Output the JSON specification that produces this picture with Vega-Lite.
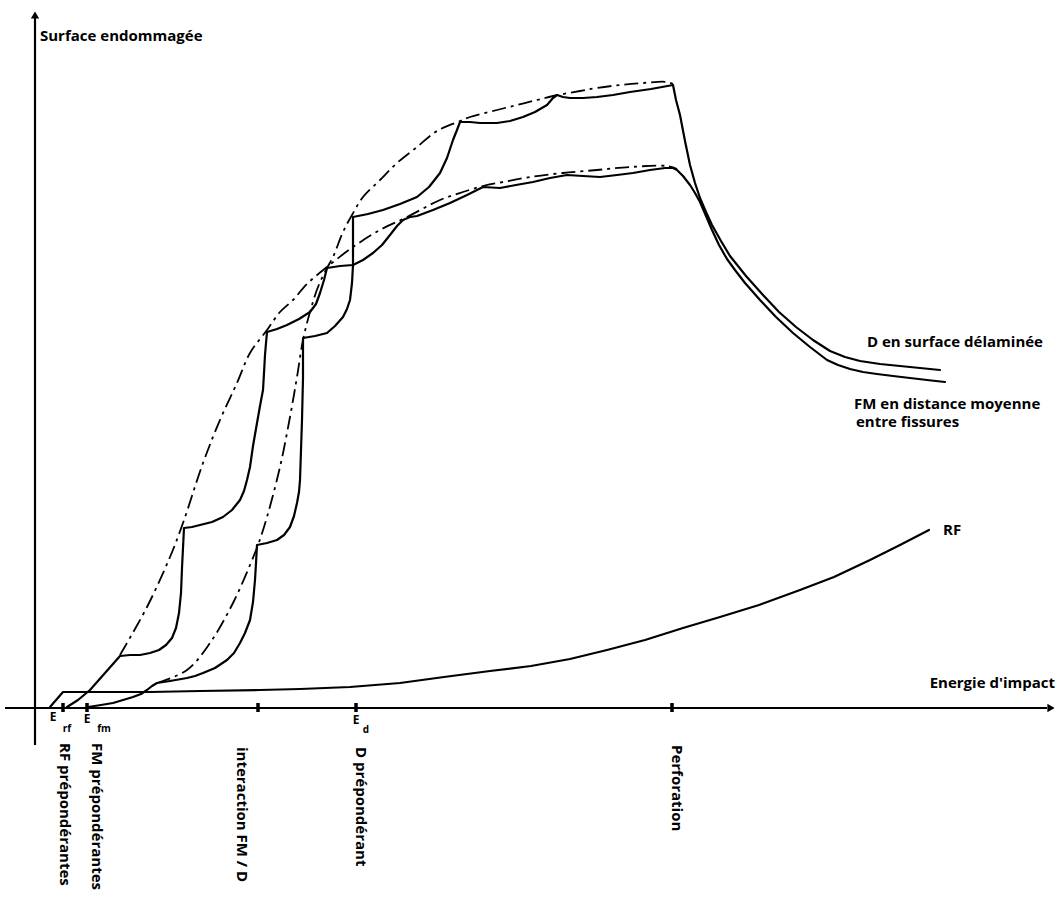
{
  "$schema": "https://vega.github.io/schema/vega-lite/v6.json",
  "width": 1063,
  "height": 904,
  "padding": 0,
  "autosize": {"type": "fit", "contains": "padding"},
  "background": "white",
  "config": {"view": {"stroke": null}},
  "datasets": {
    "curves": [
      {"curve":"FM","kind":"mesure","i":1,"e":32,"s":1},
      {"curve":"FM","kind":"mesure","i":2,"e":43,"s":8},
      {"curve":"FM","kind":"mesure","i":3,"e":55,"s":18},
      {"curve":"FM","kind":"mesure","i":4,"e":70,"s":35},
      {"curve":"FM","kind":"mesure","i":5,"e":85,"s":52},
      {"curve":"FM","kind":"mesure","i":6,"e":95,"s":53},
      {"curve":"FM","kind":"mesure","i":7,"e":105,"s":53},
      {"curve":"FM","kind":"mesure","i":8,"e":115,"s":55},
      {"curve":"FM","kind":"mesure","i":9,"e":124,"s":58},
      {"curve":"FM","kind":"mesure","i":10,"e":131,"s":63},
      {"curve":"FM","kind":"mesure","i":11,"e":137,"s":70},
      {"curve":"FM","kind":"mesure","i":12,"e":141,"s":80},
      {"curve":"FM","kind":"mesure","i":13,"e":144,"s":95},
      {"curve":"FM","kind":"mesure","i":14,"e":146,"s":115},
      {"curve":"FM","kind":"mesure","i":15,"e":147,"s":140},
      {"curve":"FM","kind":"mesure","i":16,"e":148,"s":160},
      {"curve":"FM","kind":"mesure","i":17,"e":149,"s":180},
      {"curve":"FM","kind":"mesure","i":18,"e":157,"s":181},
      {"curve":"FM","kind":"mesure","i":19,"e":165,"s":183},
      {"curve":"FM","kind":"mesure","i":20,"e":177,"s":186},
      {"curve":"FM","kind":"mesure","i":21,"e":188,"s":191},
      {"curve":"FM","kind":"mesure","i":22,"e":197,"s":198},
      {"curve":"FM","kind":"mesure","i":23,"e":205,"s":208},
      {"curve":"FM","kind":"mesure","i":24,"e":209,"s":217},
      {"curve":"FM","kind":"mesure","i":25,"e":212,"s":228},
      {"curve":"FM","kind":"mesure","i":26,"e":215,"s":241},
      {"curve":"FM","kind":"mesure","i":27,"e":218,"s":262},
      {"curve":"FM","kind":"mesure","i":28,"e":222,"s":285},
      {"curve":"FM","kind":"mesure","i":29,"e":225,"s":302},
      {"curve":"FM","kind":"mesure","i":30,"e":228,"s":318},
      {"curve":"FM","kind":"mesure","i":31,"e":229,"s":335},
      {"curve":"FM","kind":"mesure","i":32,"e":230,"s":353},
      {"curve":"FM","kind":"mesure","i":33,"e":231,"s":365},
      {"curve":"FM","kind":"mesure","i":34,"e":232,"s":376},
      {"curve":"FM","kind":"mesure","i":35,"e":242,"s":379},
      {"curve":"FM","kind":"mesure","i":36,"e":252,"s":383},
      {"curve":"FM","kind":"mesure","i":37,"e":264,"s":389},
      {"curve":"FM","kind":"mesure","i":38,"e":275,"s":396},
      {"curve":"FM","kind":"mesure","i":39,"e":281,"s":404},
      {"curve":"FM","kind":"mesure","i":40,"e":285,"s":415},
      {"curve":"FM","kind":"mesure","i":41,"e":289,"s":428},
      {"curve":"FM","kind":"mesure","i":42,"e":292,"s":440},
      {"curve":"FM","kind":"mesure","i":43,"e":305,"s":442},
      {"curve":"FM","kind":"mesure","i":44,"e":318,"s":443},
      {"curve":"FM","kind":"mesure","i":45,"e":328,"s":448},
      {"curve":"FM","kind":"mesure","i":46,"e":338,"s":455},
      {"curve":"FM","kind":"mesure","i":47,"e":347,"s":463},
      {"curve":"FM","kind":"mesure","i":48,"e":355,"s":473},
      {"curve":"FM","kind":"mesure","i":49,"e":362,"s":482},
      {"curve":"FM","kind":"mesure","i":50,"e":368,"s":488},
      {"curve":"FM","kind":"mesure","i":51,"e":375,"s":491},
      {"curve":"FM","kind":"mesure","i":52,"e":382,"s":492},
      {"curve":"FM","kind":"mesure","i":53,"e":398,"s":498},
      {"curve":"FM","kind":"mesure","i":54,"e":415,"s":505},
      {"curve":"FM","kind":"mesure","i":55,"e":432,"s":513},
      {"curve":"FM","kind":"mesure","i":56,"e":448,"s":521},
      {"curve":"FM","kind":"mesure","i":57,"e":465,"s":520},
      {"curve":"FM","kind":"mesure","i":58,"e":481,"s":523},
      {"curve":"FM","kind":"mesure","i":59,"e":498,"s":526},
      {"curve":"FM","kind":"mesure","i":60,"e":515,"s":530},
      {"curve":"FM","kind":"mesure","i":61,"e":532,"s":533},
      {"curve":"FM","kind":"mesure","i":62,"e":548,"s":532},
      {"curve":"FM","kind":"mesure","i":63,"e":565,"s":531},
      {"curve":"FM","kind":"mesure","i":64,"e":582,"s":533},
      {"curve":"FM","kind":"mesure","i":65,"e":598,"s":535},
      {"curve":"FM","kind":"mesure","i":66,"e":615,"s":538},
      {"curve":"FM","kind":"mesure","i":67,"e":630,"s":540},
      {"curve":"FM","kind":"mesure","i":68,"e":638,"s":540},
      {"curve":"FM","kind":"mesure","i":69,"e":642,"s":538},
      {"curve":"FM","kind":"mesure","i":70,"e":648,"s":532},
      {"curve":"FM","kind":"mesure","i":71,"e":655,"s":523},
      {"curve":"FM","kind":"mesure","i":72,"e":660,"s":515},
      {"curve":"FM","kind":"mesure","i":73,"e":665,"s":506},
      {"curve":"FM","kind":"mesure","i":74,"e":671,"s":492},
      {"curve":"FM","kind":"mesure","i":75,"e":677,"s":478},
      {"curve":"FM","kind":"mesure","i":76,"e":684,"s":463},
      {"curve":"FM","kind":"mesure","i":77,"e":692,"s":449},
      {"curve":"FM","kind":"mesure","i":78,"e":700,"s":438},
      {"curve":"FM","kind":"mesure","i":79,"e":710,"s":425},
      {"curve":"FM","kind":"mesure","i":80,"e":725,"s":408},
      {"curve":"FM","kind":"mesure","i":81,"e":741,"s":391},
      {"curve":"FM","kind":"mesure","i":82,"e":758,"s":375},
      {"curve":"FM","kind":"mesure","i":83,"e":775,"s":361},
      {"curve":"FM","kind":"mesure","i":84,"e":792,"s":348},
      {"curve":"FM","kind":"mesure","i":85,"e":803,"s":343},
      {"curve":"FM","kind":"mesure","i":86,"e":815,"s":339},
      {"curve":"FM","kind":"mesure","i":87,"e":828,"s":336},
      {"curve":"FM","kind":"mesure","i":88,"e":842,"s":334},
      {"curve":"FM","kind":"mesure","i":89,"e":858,"s":332},
      {"curve":"FM","kind":"mesure","i":90,"e":875,"s":330},
      {"curve":"FM","kind":"mesure","i":91,"e":892,"s":328},
      {"curve":"FM","kind":"mesure","i":92,"e":910,"s":326},

      {"curve":"D","kind":"mesure","i":1,"e":53,"s":1},
      {"curve":"D","kind":"mesure","i":2,"e":66,"s":3},
      {"curve":"D","kind":"mesure","i":3,"e":78,"s":5},
      {"curve":"D","kind":"mesure","i":4,"e":88,"s":8},
      {"curve":"D","kind":"mesure","i":5,"e":98,"s":11},
      {"curve":"D","kind":"mesure","i":6,"e":106,"s":14},
      {"curve":"D","kind":"mesure","i":7,"e":112,"s":18},
      {"curve":"D","kind":"mesure","i":8,"e":117,"s":22},
      {"curve":"D","kind":"mesure","i":9,"e":122,"s":25},
      {"curve":"D","kind":"mesure","i":10,"e":135,"s":27},
      {"curve":"D","kind":"mesure","i":11,"e":152,"s":30},
      {"curve":"D","kind":"mesure","i":12,"e":160,"s":32},
      {"curve":"D","kind":"mesure","i":13,"e":168,"s":35},
      {"curve":"D","kind":"mesure","i":14,"e":180,"s":40},
      {"curve":"D","kind":"mesure","i":15,"e":192,"s":48},
      {"curve":"D","kind":"mesure","i":16,"e":199,"s":55},
      {"curve":"D","kind":"mesure","i":17,"e":205,"s":65},
      {"curve":"D","kind":"mesure","i":18,"e":210,"s":75},
      {"curve":"D","kind":"mesure","i":19,"e":215,"s":88},
      {"curve":"D","kind":"mesure","i":20,"e":218,"s":106},
      {"curve":"D","kind":"mesure","i":21,"e":220,"s":128},
      {"curve":"D","kind":"mesure","i":22,"e":221,"s":145},
      {"curve":"D","kind":"mesure","i":23,"e":222,"s":163},
      {"curve":"D","kind":"mesure","i":24,"e":232,"s":165},
      {"curve":"D","kind":"mesure","i":25,"e":242,"s":168},
      {"curve":"D","kind":"mesure","i":26,"e":249,"s":173},
      {"curve":"D","kind":"mesure","i":27,"e":255,"s":181},
      {"curve":"D","kind":"mesure","i":28,"e":259,"s":192},
      {"curve":"D","kind":"mesure","i":29,"e":262,"s":205},
      {"curve":"D","kind":"mesure","i":30,"e":264,"s":216},
      {"curve":"D","kind":"mesure","i":31,"e":265,"s":228},
      {"curve":"D","kind":"mesure","i":32,"e":266,"s":258},
      {"curve":"D","kind":"mesure","i":33,"e":267,"s":288},
      {"curve":"D","kind":"mesure","i":34,"e":268,"s":330},
      {"curve":"D","kind":"mesure","i":35,"e":268,"s":370},
      {"curve":"D","kind":"mesure","i":36,"e":280,"s":372},
      {"curve":"D","kind":"mesure","i":37,"e":292,"s":375},
      {"curve":"D","kind":"mesure","i":38,"e":300,"s":382},
      {"curve":"D","kind":"mesure","i":39,"e":308,"s":391},
      {"curve":"D","kind":"mesure","i":40,"e":312,"s":399},
      {"curve":"D","kind":"mesure","i":41,"e":315,"s":408},
      {"curve":"D","kind":"mesure","i":42,"e":317,"s":425},
      {"curve":"D","kind":"mesure","i":43,"e":318,"s":443},
      {"curve":"D","kind":"mesure","i":44,"e":318,"s":491},
      {"curve":"D","kind":"mesure","i":45,"e":333,"s":494},
      {"curve":"D","kind":"mesure","i":46,"e":348,"s":498},
      {"curve":"D","kind":"mesure","i":47,"e":365,"s":504},
      {"curve":"D","kind":"mesure","i":48,"e":382,"s":511},
      {"curve":"D","kind":"mesure","i":49,"e":394,"s":521},
      {"curve":"D","kind":"mesure","i":50,"e":405,"s":535},
      {"curve":"D","kind":"mesure","i":51,"e":412,"s":550},
      {"curve":"D","kind":"mesure","i":52,"e":418,"s":568},
      {"curve":"D","kind":"mesure","i":53,"e":422,"s":578},
      {"curve":"D","kind":"mesure","i":54,"e":425,"s":586},
      {"curve":"D","kind":"mesure","i":55,"e":435,"s":586},
      {"curve":"D","kind":"mesure","i":56,"e":445,"s":585},
      {"curve":"D","kind":"mesure","i":57,"e":462,"s":585},
      {"curve":"D","kind":"mesure","i":58,"e":475,"s":587},
      {"curve":"D","kind":"mesure","i":59,"e":488,"s":591},
      {"curve":"D","kind":"mesure","i":60,"e":500,"s":596},
      {"curve":"D","kind":"mesure","i":61,"e":512,"s":603},
      {"curve":"D","kind":"mesure","i":62,"e":518,"s":610},
      {"curve":"D","kind":"mesure","i":63,"e":522,"s":613},
      {"curve":"D","kind":"mesure","i":64,"e":528,"s":611},
      {"curve":"D","kind":"mesure","i":65,"e":535,"s":610},
      {"curve":"D","kind":"mesure","i":66,"e":548,"s":610},
      {"curve":"D","kind":"mesure","i":67,"e":562,"s":611},
      {"curve":"D","kind":"mesure","i":68,"e":578,"s":613},
      {"curve":"D","kind":"mesure","i":69,"e":595,"s":616},
      {"curve":"D","kind":"mesure","i":70,"e":616,"s":619},
      {"curve":"D","kind":"mesure","i":71,"e":638,"s":623},
      {"curve":"D","kind":"mesure","i":72,"e":641,"s":608},
      {"curve":"D","kind":"mesure","i":73,"e":645,"s":593},
      {"curve":"D","kind":"mesure","i":74,"e":650,"s":567},
      {"curve":"D","kind":"mesure","i":75,"e":655,"s":543},
      {"curve":"D","kind":"mesure","i":76,"e":660,"s":525},
      {"curve":"D","kind":"mesure","i":77,"e":665,"s":510},
      {"curve":"D","kind":"mesure","i":78,"e":671,"s":496},
      {"curve":"D","kind":"mesure","i":79,"e":677,"s":483},
      {"curve":"D","kind":"mesure","i":80,"e":686,"s":467},
      {"curve":"D","kind":"mesure","i":81,"e":695,"s":452},
      {"curve":"D","kind":"mesure","i":82,"e":711,"s":432},
      {"curve":"D","kind":"mesure","i":83,"e":728,"s":413},
      {"curve":"D","kind":"mesure","i":84,"e":744,"s":396},
      {"curve":"D","kind":"mesure","i":85,"e":761,"s":381},
      {"curve":"D","kind":"mesure","i":86,"e":778,"s":368},
      {"curve":"D","kind":"mesure","i":87,"e":795,"s":357},
      {"curve":"D","kind":"mesure","i":88,"e":810,"s":351},
      {"curve":"D","kind":"mesure","i":89,"e":825,"s":347},
      {"curve":"D","kind":"mesure","i":90,"e":845,"s":344},
      {"curve":"D","kind":"mesure","i":91,"e":865,"s":342},
      {"curve":"D","kind":"mesure","i":92,"e":885,"s":340},
      {"curve":"D","kind":"mesure","i":93,"e":905,"s":338},

      {"curve":"RF","kind":"mesure","i":1,"e":15,"s":1},
      {"curve":"RF","kind":"mesure","i":2,"e":28,"s":16},
      {"curve":"RF","kind":"mesure","i":3,"e":65,"s":16},
      {"curve":"RF","kind":"mesure","i":4,"e":115,"s":16},
      {"curve":"RF","kind":"mesure","i":5,"e":165,"s":17},
      {"curve":"RF","kind":"mesure","i":6,"e":225,"s":18},
      {"curve":"RF","kind":"mesure","i":7,"e":265,"s":19},
      {"curve":"RF","kind":"mesure","i":8,"e":315,"s":21},
      {"curve":"RF","kind":"mesure","i":9,"e":365,"s":25},
      {"curve":"RF","kind":"mesure","i":10,"e":409,"s":31},
      {"curve":"RF","kind":"mesure","i":11,"e":455,"s":37},
      {"curve":"RF","kind":"mesure","i":12,"e":496,"s":42},
      {"curve":"RF","kind":"mesure","i":13,"e":535,"s":49},
      {"curve":"RF","kind":"mesure","i":14,"e":572,"s":58},
      {"curve":"RF","kind":"mesure","i":15,"e":610,"s":68},
      {"curve":"RF","kind":"mesure","i":16,"e":648,"s":80},
      {"curve":"RF","kind":"mesure","i":17,"e":685,"s":91},
      {"curve":"RF","kind":"mesure","i":18,"e":724,"s":103},
      {"curve":"RF","kind":"mesure","i":19,"e":765,"s":118},
      {"curve":"RF","kind":"mesure","i":20,"e":799,"s":131},
      {"curve":"RF","kind":"mesure","i":21,"e":835,"s":148},
      {"curve":"RF","kind":"mesure","i":22,"e":865,"s":163},
      {"curve":"RF","kind":"mesure","i":23,"e":894,"s":178},

      {"curve":"FM_env","kind":"enveloppe","i":1,"e":85,"s":53},
      {"curve":"FM_env","kind":"enveloppe","i":2,"e":112,"s":101},
      {"curve":"FM_env","kind":"enveloppe","i":3,"e":135,"s":151},
      {"curve":"FM_env","kind":"enveloppe","i":4,"e":148,"s":185},
      {"curve":"FM_env","kind":"enveloppe","i":5,"e":168,"s":245},
      {"curve":"FM_env","kind":"enveloppe","i":6,"e":185,"s":288},
      {"curve":"FM_env","kind":"enveloppe","i":7,"e":202,"s":325},
      {"curve":"FM_env","kind":"enveloppe","i":8,"e":215,"s":355},
      {"curve":"FM_env","kind":"enveloppe","i":9,"e":232,"s":378},
      {"curve":"FM_env","kind":"enveloppe","i":10,"e":245,"s":396},
      {"curve":"FM_env","kind":"enveloppe","i":11,"e":258,"s":408},
      {"curve":"FM_env","kind":"enveloppe","i":12,"e":272,"s":424},
      {"curve":"FM_env","kind":"enveloppe","i":13,"e":292,"s":441},
      {"curve":"FM_env","kind":"enveloppe","i":14,"e":318,"s":461},
      {"curve":"FM_env","kind":"enveloppe","i":15,"e":345,"s":478},
      {"curve":"FM_env","kind":"enveloppe","i":16,"e":372,"s":491},
      {"curve":"FM_env","kind":"enveloppe","i":17,"e":405,"s":508},
      {"curve":"FM_env","kind":"enveloppe","i":18,"e":428,"s":516},
      {"curve":"FM_env","kind":"enveloppe","i":19,"e":448,"s":522},
      {"curve":"FM_env","kind":"enveloppe","i":20,"e":468,"s":526},
      {"curve":"FM_env","kind":"enveloppe","i":21,"e":495,"s":531},
      {"curve":"FM_env","kind":"enveloppe","i":22,"e":528,"s":535},
      {"curve":"FM_env","kind":"enveloppe","i":23,"e":562,"s":538},
      {"curve":"FM_env","kind":"enveloppe","i":24,"e":595,"s":541},
      {"curve":"FM_env","kind":"enveloppe","i":25,"e":632,"s":542},
      {"curve":"FM_env","kind":"enveloppe","i":26,"e":642,"s":539},

      {"curve":"D_env","kind":"enveloppe","i":1,"e":122,"s":25},
      {"curve":"D_env","kind":"enveloppe","i":2,"e":152,"s":38},
      {"curve":"D_env","kind":"enveloppe","i":3,"e":175,"s":65},
      {"curve":"D_env","kind":"enveloppe","i":4,"e":198,"s":105},
      {"curve":"D_env","kind":"enveloppe","i":5,"e":215,"s":143},
      {"curve":"D_env","kind":"enveloppe","i":6,"e":223,"s":163},
      {"curve":"D_env","kind":"enveloppe","i":7,"e":232,"s":191},
      {"curve":"D_env","kind":"enveloppe","i":8,"e":245,"s":241},
      {"curve":"D_env","kind":"enveloppe","i":9,"e":255,"s":291},
      {"curve":"D_env","kind":"enveloppe","i":10,"e":262,"s":331},
      {"curve":"D_env","kind":"enveloppe","i":11,"e":268,"s":368},
      {"curve":"D_env","kind":"enveloppe","i":12,"e":275,"s":396},
      {"curve":"D_env","kind":"enveloppe","i":13,"e":283,"s":421},
      {"curve":"D_env","kind":"enveloppe","i":14,"e":292,"s":440},
      {"curve":"D_env","kind":"enveloppe","i":15,"e":298,"s":451},
      {"curve":"D_env","kind":"enveloppe","i":16,"e":308,"s":476},
      {"curve":"D_env","kind":"enveloppe","i":17,"e":317,"s":493},
      {"curve":"D_env","kind":"enveloppe","i":18,"e":328,"s":511},
      {"curve":"D_env","kind":"enveloppe","i":19,"e":345,"s":528},
      {"curve":"D_env","kind":"enveloppe","i":20,"e":362,"s":545},
      {"curve":"D_env","kind":"enveloppe","i":21,"e":382,"s":561},
      {"curve":"D_env","kind":"enveloppe","i":22,"e":402,"s":577},
      {"curve":"D_env","kind":"enveloppe","i":23,"e":425,"s":587},
      {"curve":"D_env","kind":"enveloppe","i":24,"e":435,"s":591},
      {"curve":"D_env","kind":"enveloppe","i":25,"e":462,"s":598},
      {"curve":"D_env","kind":"enveloppe","i":26,"e":482,"s":603},
      {"curve":"D_env","kind":"enveloppe","i":27,"e":502,"s":608},
      {"curve":"D_env","kind":"enveloppe","i":28,"e":518,"s":612},
      {"curve":"D_env","kind":"enveloppe","i":29,"e":545,"s":617},
      {"curve":"D_env","kind":"enveloppe","i":30,"e":562,"s":620},
      {"curve":"D_env","kind":"enveloppe","i":31,"e":585,"s":623},
      {"curve":"D_env","kind":"enveloppe","i":32,"e":608,"s":625},
      {"curve":"D_env","kind":"enveloppe","i":33,"e":632,"s":626},
      {"curve":"D_env","kind":"enveloppe","i":34,"e":640,"s":623}
    ],
    "axes": [
      {"axe":"surface","e":0,"s":-37,"e2":0,"s2":690},
      {"axe":"energie","e":-30,"s":0,"e2":1012,"s2":0}
    ],
    "marks": [
      {"nom":"Erf","e":28,"s":-4,"s2":5},
      {"nom":"Efm","e":52,"s":-4,"s2":5},
      {"nom":"interaction","e":223,"s":-4,"s2":5},
      {"nom":"Ed","e":321,"s":-4,"s2":5},
      {"nom":"perforation","e":637,"s":-4,"s2":5}
    ],
    "labels": [
      {"t":"Surface endommagée","e":5,"s":667},
      {"t":"D en surface délaminée","e":832,"s":361},
      {"t":"FM en distance moyenne","e":819,"s":299},
      {"t":"entre fissures","e":821,"s":281},
      {"t":"RF","e":908,"s":173}
    ],
    "vlabels": [
      {"t":"RF prépondérantes","e":30,"s":-35},
      {"t":"FM prépondérantes","e":62,"s":-35},
      {"t":"interaction FM / D","e":207,"s":-39},
      {"t":"D prépondérant","e":326,"s":-39},
      {"t":"Perforation","e":642,"s":-37}
    ],
    "elabels": [
      {"t":"E","e":18,"s":-9},
      {"t":"E","e":52,"s":-11},
      {"t":"E","e":321,"s":-12}
    ],
    "sublabels": [
      {"t":"rf","e":32,"s":-21},
      {"t":"fm","e":69,"s":-21},
      {"t":"d","e":331,"s":-22}
    ]
  },
  "encoding": {
    "x": {"field":"e","type":"quantitative","scale":{"domain":[-35,1028],"nice":false,"zero":false},"axis":null},
    "y": {"field":"s","type":"quantitative","scale":{"domain":[-196,708],"nice":false,"zero":false},"axis":null}
  },
  "layer": [
    {
      "data": {"name":"axes"},
      "mark": {"type":"rule","color":"black","strokeWidth":2.2},
      "encoding": {"x2":{"field":"e2"},"y2":{"field":"s2"}}
    },
    {
      "data": {"values":[{"e":0,"s":693}]},
      "mark": {"type":"point","shape":"triangle-up","filled":true,"color":"black","size":70,"opacity":1}
    },
    {
      "data": {"values":[{"e":1016,"s":0}]},
      "mark": {"type":"point","shape":"triangle-right","filled":true,"color":"black","size":70,"opacity":1}
    },
    {
      "data": {"name":"marks"},
      "mark": {"type":"rule","color":"black","strokeWidth":3.5},
      "encoding": {"y2":{"field":"s2"}}
    },
    {
      "data": {"name":"curves"},
      "transform": [{"filter":"datum.kind == 'mesure'"}],
      "mark": {"type":"line","color":"black","strokeWidth":2.2,"strokeJoin":"round","strokeCap":"round","interpolate":"linear"},
      "encoding": {"detail":{"field":"curve"},"order":{"field":"i","type":"quantitative"}}
    },
    {
      "data": {"name":"curves"},
      "transform": [{"filter":"datum.kind == 'enveloppe'"}],
      "mark": {"type":"line","color":"black","strokeWidth":1.8,"strokeDash":[14,5,3,5],"interpolate":"catmull-rom"},
      "encoding": {"detail":{"field":"curve"},"order":{"field":"i","type":"quantitative"}}
    },
    {
      "data": {"name":"labels"},
      "mark": {"type":"text","align":"left","baseline":"alphabetic","font":"Open Sans","fontWeight":"bold","fontSize":15,"color":"black"},
      "encoding": {"text":{"field":"t"}}
    },
    {
      "data": {"values":[{"t":"Energie d'impact","e":1020,"s":20}]},
      "mark": {"type":"text","align":"right","baseline":"alphabetic","font":"Open Sans","fontWeight":"bold","fontSize":15,"color":"black"},
      "encoding": {"text":{"field":"t"}}
    },
    {
      "data": {"name":"vlabels"},
      "mark": {"type":"text","align":"left","baseline":"middle","angle":90,"font":"Open Sans","fontWeight":"bold","fontSize":15,"color":"black"},
      "encoding": {"text":{"field":"t"}}
    },
    {
      "data": {"name":"elabels"},
      "mark": {"type":"text","align":"center","baseline":"middle","font":"Open Sans","fontWeight":"bold","fontSize":12,"color":"black"},
      "encoding": {"text":{"field":"t"}}
    },
    {
      "data": {"name":"sublabels"},
      "mark": {"type":"text","align":"center","baseline":"middle","font":"Open Sans","fontWeight":"bold","fontSize":10,"color":"black"},
      "encoding": {"text":{"field":"t"}}
    }
  ]
}
